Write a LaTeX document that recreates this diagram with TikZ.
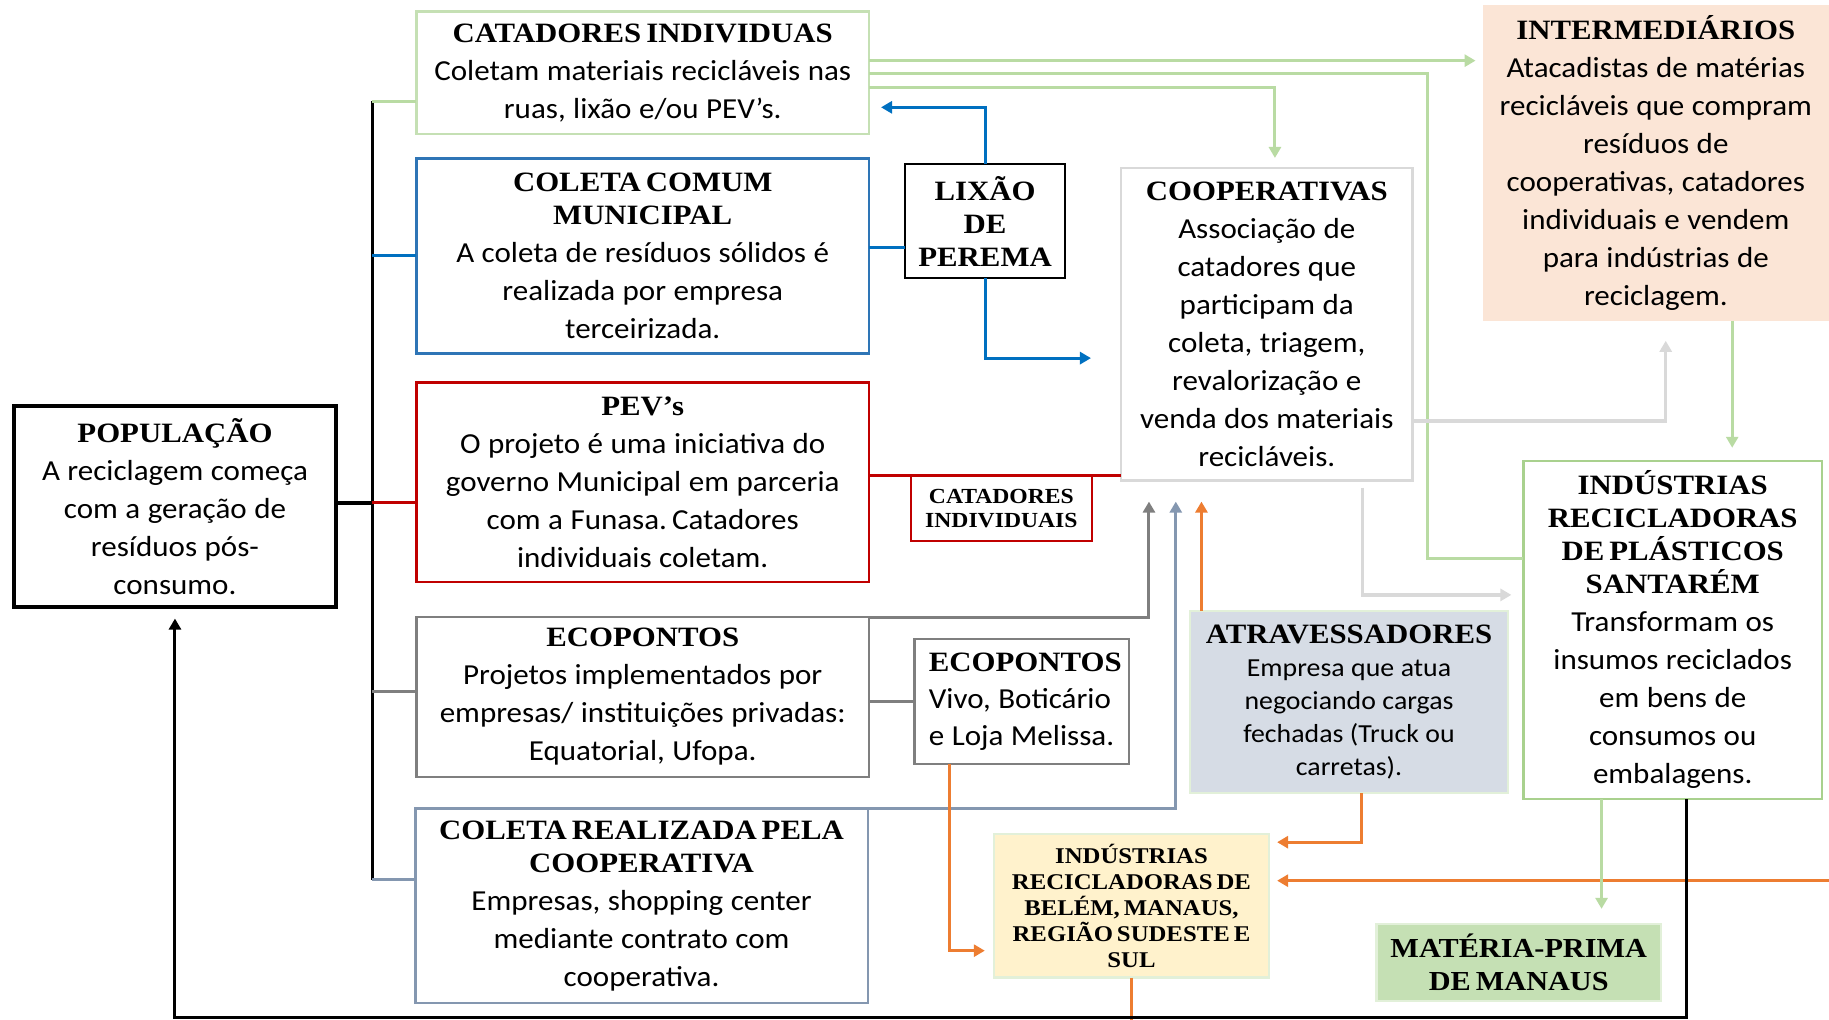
\documentclass[tikz,border=0pt]{standalone}
\usepackage{fontspec}
\setmainfont{Carlito}[FakeStretch=1.07]
\newfontfamily\serifb{Liberation Serif}[FakeStretch=1.10]
\usetikzlibrary{arrows.meta,fit}
\definecolor{catG}{HTML}{C5E0B4}
\definecolor{santG}{HTML}{A9D18E}
\definecolor{conG}{HTML}{B9DBA3}
\definecolor{bluC}{HTML}{0070C0}
\definecolor{bluB}{HTML}{2E75B6}
\definecolor{redC}{HTML}{C00000}
\definecolor{grayC}{HTML}{7F7F7F}
\definecolor{gbC}{HTML}{8497B0}
\definecolor{orC}{HTML}{ED7D31}
\definecolor{lgC}{HTML}{D9D9D9}
\definecolor{interF}{HTML}{FBE5D6}
\definecolor{atrF}{HTML}{D6DCE5}
\definecolor{belF}{HTML}{FFF2CC}
\definecolor{matF}{HTML}{C5E0B4}
\definecolor{paleG}{HTML}{E2F0D9}
\newcommand\TtlSp{\spaceskip=5pt plus 1pt minus 1pt\relax}
\newcommand\Ttl{\serifb\bfseries\fontsize{28}{33}\selectfont\TtlSp}
\newcommand\Bdy{\fontsize{29}{38}\selectfont\spaceskip=7.5pt plus 1pt minus 1pt\relax}
\tikzset{
  box/.style={inner sep=0pt, outer sep=0pt, line width=2.5pt, fill=white},
  txt/.style={inner sep=0pt, outer sep=0pt, anchor=center},
  ln/.style={line width=3pt},
  arr/.style={-{Triangle[length=11pt,width=12pt]}},
}
\begin{document}
\begin{tikzpicture}[x=1.1665pt,y=-1.1665pt]
\useasboundingbox (0,0) rectangle (1568,874);
% ---------- boxes ----------
\node[box,draw=catG,fit={(357,10)(745,115)}] (catind) {};
\node[box,draw=bluB,fit={(357,136)(745,303)}] (coleta) {};
\node[box,draw=redC,fit={(357,328)(745,499)}] (pev) {};
\node[box,draw=grayC,fit={(357,529)(745,666)}] (eco) {};
\node[box,draw=gbC,fit={(356,693)(744,860)}] (colcoop) {};
\node[box,draw=black,line width=4pt,fit={(12,348)(288,520)}] (pop) {};
\node[box,draw=black,line width=2pt,fit={(776,141)(913,238)}] (lixao) {};
\node[box,draw=lgC,fit={(961,144)(1211,412)}] (coop) {};
\node[box,draw=none,fill=interF,fit={(1271,4)(1570,275)}] (inter) {};
\node[box,draw=santG,fit={(1306,395)(1562,685)}] (santarem) {};
\node[box,draw=redC,fit={(781,408)(936,464)}] (catsmall) {};
\node[box,draw=grayC,fit={(784,548)(968,655)}] (ecosmall) {};
\node[box,draw=paleG,fill=atrF,fit={(1020,524)(1293,680)}] (atrav) {};
\node[box,draw=paleG,fill=belF,fit={(852,715)(1088,838)}] (belem) {};
\node[box,draw=paleG,fill=matF,fit={(1180,792)(1424,858)}] (materia) {};
% ---------- texts ----------
\node[txt,text width=445pt] (catind-t) at (catind.center)
  {\centering{\Ttl CATADORES INDIVIDUAS\par}{\Bdy Coletam materiais recicláveis nas\\ruas, lixão e/ou PEV’s.\par}};
\node[txt,text width=445pt] (coleta-t) at (coleta.center)
  {\centering{\Ttl COLETA COMUM\\MUNICIPAL\par}{\Bdy A coleta de resíduos sólidos é\\realizada por empresa\\terceirizada.\par}};
\node[txt,text width=445pt] (pev-t) at (pev.center)
  {\centering{\Ttl PEV’s\par}{\Bdy O projeto é uma iniciativa do\\governo Municipal em parceria\\com a Funasa. Catadores\\individuais coletam.\par}};
\node[txt,text width=445pt] (eco-t) at (eco.center)
  {\centering{\Ttl ECOPONTOS\par}{\Bdy Projetos implementados por\\empresas/ instituições privadas:\\Equatorial, Ufopa.\par}};
\node[txt,text width=445pt] (colcoop-t) at (colcoop.center)
  {\centering{\Ttl COLETA REALIZADA PELA\\COOPERATIVA\par}{\Bdy Empresas, shopping center\\mediante contrato com\\cooperativa.\par}};
\node[txt,text width=310pt] (pop-t) at (pop.center)
  {\centering{\Ttl POPULAÇÃO\par}{\Bdy A reciclagem começa\\com a geração de\\resíduos pós-\\consumo.\par}};
\node[txt,text width=150pt] (lixao-t) at (lixao.center)
  {\centering{\Ttl LIXÃO\\DE\\PEREMA\par}};
\node[txt,text width=285pt] (coop-t) at (coop.center)
  {\centering{\Ttl COOPERATIVAS\par}{\Bdy Associação de\\catadores que\\participam da\\coleta, triagem,\\revalorização e\\venda dos materiais\\recicláveis.\par}};
\node[txt,text width=340pt] (inter-t) at (1419.5,139.5)
  {\centering{\Ttl INTERMEDIÁRIOS\par}{\Bdy Atacadistas de matérias\\recicláveis que compram\\resíduos de\\cooperativas, catadores\\individuais e vendem\\para indústrias de\\reciclagem.\par}};
\node[txt,text width=290pt] (santarem-t) at (santarem.center)
  {\centering{\Ttl INDÚSTRIAS\\RECICLADORAS\\DE PLÁSTICOS\\SANTARÉM\par}{\Bdy Transformam os\\insumos reciclados\\em bens de\\consumos ou\\embalagens.\par}};
\node[txt,text width=178pt] (catsmall-t) at (catsmall.center)
  {\centering{\serifb\bfseries\fontsize{21.5}{24.5}\selectfont\TtlSp CATADORES\\INDIVIDUAIS\par}};
\node[txt,text width=190pt] (ecosmall-t) at ([xshift=2pt]ecosmall.center)
  {\raggedright{\Ttl ECOPONTOS\par}{\Bdy\fontsize{29}{37}\selectfont Vivo, Boticário\\e Loja Melissa.\par}};
\node[txt,text width=315pt] (atrav-t) at (atrav.center)
  {\centering{\Ttl ATRAVESSADORES\par}{\fontsize{26}{33}\selectfont\spaceskip=6.5pt plus 1pt minus 1pt\relax Empresa que atua\\negociando cargas\\fechadas (Truck ou\\carretas).\par}};
\node[txt,text width=272pt] (belem-t) at (belem.center)
  {\centering{\serifb\bfseries\fontsize{22.5}{26}\selectfont\spaceskip=4pt plus 1pt minus 1pt\relax INDÚSTRIAS\\RECICLADORAS DE\\BELÉM, MANAUS,\\REGIÃO SUDESTE E\\SUL\par}};
\node[txt,text width=282pt] (materia-t) at (materia.center)
  {\centering{\serifb\bfseries\fontsize{27.5}{32.5}\selectfont\TtlSp MATÉRIA-PRIMA\\DE MANAUS\par}};
% ---------- trunk ----------
\coordinate (tA) at (319,87);
\coordinate (tB) at (319,219);
\coordinate (tC) at (319,431);
\coordinate (tD) at (319,593);
\coordinate (tE) at (319,754);
\draw[ln,black] (tA) -- (tE);
\draw[ln,black,line width=4pt] (pop.east |- tC) -- (tC);
\draw[ln,conG] (tA) -- (catind.west |- tA);
\draw[ln,bluC] (tB) -- (coleta.west |- tB);
\draw[ln,redC] (tC) -- (pev.west |- tC);
\draw[ln,grayC] (tD) -- (eco.west |- tD);
\draw[ln,gbC] (tE) -- (colcoop.west |- tE);
% ---------- from catadores individuas ----------
\draw[ln,conG,arr,shorten >=7pt] (catind.east |- 0,52) -- (inter.west |- 0,52);
\draw[ln,conG] (catind.east |- 0,63) -- (1224,63) -- (1224,479) -- (santarem.west |- 0,479);
\draw[ln,conG,arr,shorten >=10pt] (catind.east |- 0,75) -- (1093,75) -- (1093,75 |- coop.north);
% ---------- lixao ----------
\draw[ln,bluC] (lixao.west |- 0,212) -- (coleta.east |- 0,212);
\draw[ln,bluC,arr,shorten >=12pt] (lixao.north) -- (lixao.north |- 0,92) -- (catind.east |- 0,92);
\draw[ln,bluC,arr,shorten >=30pt] (lixao.south) -- (lixao.south |- 0,307) -- (coop.west |- 0,307);
% ---------- pev ----------
\draw[ln,redC] (pev.east |- 0,408) -- (coop.west |- 0,408);
% ---------- ecopontos / coleta coop / atravessadores to cooperativas ----------
\draw[ln,grayC,arr,shorten >=21pt] (eco.north east) -- (985,529) -- (985,529 |- coop.south);
\draw[ln,grayC] (eco.east |- 0,601) -- (ecosmall.west |- 0,601);
\draw[ln,gbC,arr,shorten >=21pt] (colcoop.north east) -- (1008,693) -- (1008,693 |- coop.south);
\draw[ln,orC,arr,shorten >=21pt] (atrav.north -| 1030,0) -- (1030,0 |- coop.south);
% ---------- orange to belem ----------
\draw[ln,orC,arr,shorten >=9pt] (ecosmall.south -| 814,0) -- (814,815) -- (belem.west |- 0,815);
\draw[ln,orC,arr,shorten >=8pt] (atrav.south -| 1167,0) -- (1167,722) -- (belem.east |- 0,722);
\coordinate (oR) at (1572,755);
\draw[ln,orC,arr,shorten >=8pt] (oR) -- (belem.east |- oR);
\coordinate (oB) at (970,878);
\draw[ln,orC] (belem.south -| oB) -- (oB);
% ---------- light gray from cooperativas ----------
\draw[ln,lgC,line width=3.5pt,arr,shorten >=20pt] (coop.east |- 0,361) -- (1428,361) -- (1428,361 |- inter.south);
\draw[ln,lgC,line width=3.5pt,arr,shorten <=7pt,shorten >=12pt] (coop.south -| 1168,0) -- (1168,510) -- (santarem.west |- 0,510);
% ---------- green ----------
\draw[ln,conG,arr,shorten >=13pt] (inter.south -| 1485,0) -- (1485,0 |- santarem.north);
\draw[ln,conG,arr,shorten >=15pt] (santarem.south -| 1373,0) -- (1373,0 |- materia.north);
% ---------- black return ----------
\draw[ln,black,arr,shorten >=12pt] (santarem.south -| 1446,0) -- (1446,872) -- (150,872) -- (150,0 |- pop.south);
\end{tikzpicture}
\end{document}
